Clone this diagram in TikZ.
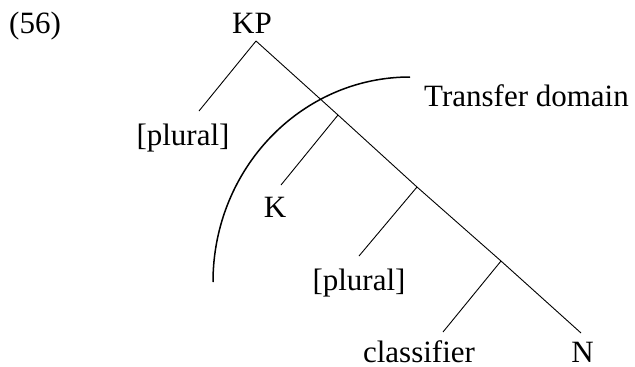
\documentclass[tikz,border=0pt]{standalone}
\usepackage{fontspec}
\setmainfont{Liberation Serif}
\begin{document}
\begin{tikzpicture}[x=1pt,y=-1pt,
  lbl/.style={inner sep=0pt,anchor=base,font=\fontsize{31}{37}\selectfont},
  branch/.style={line width=0.9pt},
  tdarc/.style={line width=1.5pt}]
\useasboundingbox (0,0) rectangle (635,367);
% labels
\node[lbl,anchor=base west] (ex) at (9,33) {(56)};
\node[lbl] (kp) at (252,33) {KP};
\node[lbl] (pl1) at (183,145) {[plural]};
\node[lbl] (k) at (275,217) {K};
\node[lbl] (pl2) at (359,290) {[plural]};
\node[lbl] (cl) at (419,362) {classifier};
\node[lbl] (n) at (582.5,362) {N};
\node[lbl,anchor=base west] (td) at (424,106) {Transfer domain};
% tree points
\coordinate (top) at (256,41);
\coordinate (b1) at (338,115);
\coordinate (b2) at (417,187);
\coordinate (b3) at (501,261);
\coordinate (pl1t) at (199,111);
\coordinate (kt) at (281,185);
\coordinate (pl2t) at (359,256);
\coordinate (clt) at (443,332);
\coordinate (nt) at (581,333);
% branches
\draw[branch] (top) -- (pl1t);
\draw[branch] (top) -- (b1) -- (b2) -- (b3) -- (nt);
\draw[branch] (b1) -- (kt);
\draw[branch] (b2) -- (pl2t);
\draw[branch] (b3) -- (clt);
% transfer domain arc
\coordinate (arcs) at (410,77);
\draw[tdarc] (arcs) arc[start angle=90,end angle=180,x radius=197pt,y radius=205pt];
\end{tikzpicture}
\end{document}
